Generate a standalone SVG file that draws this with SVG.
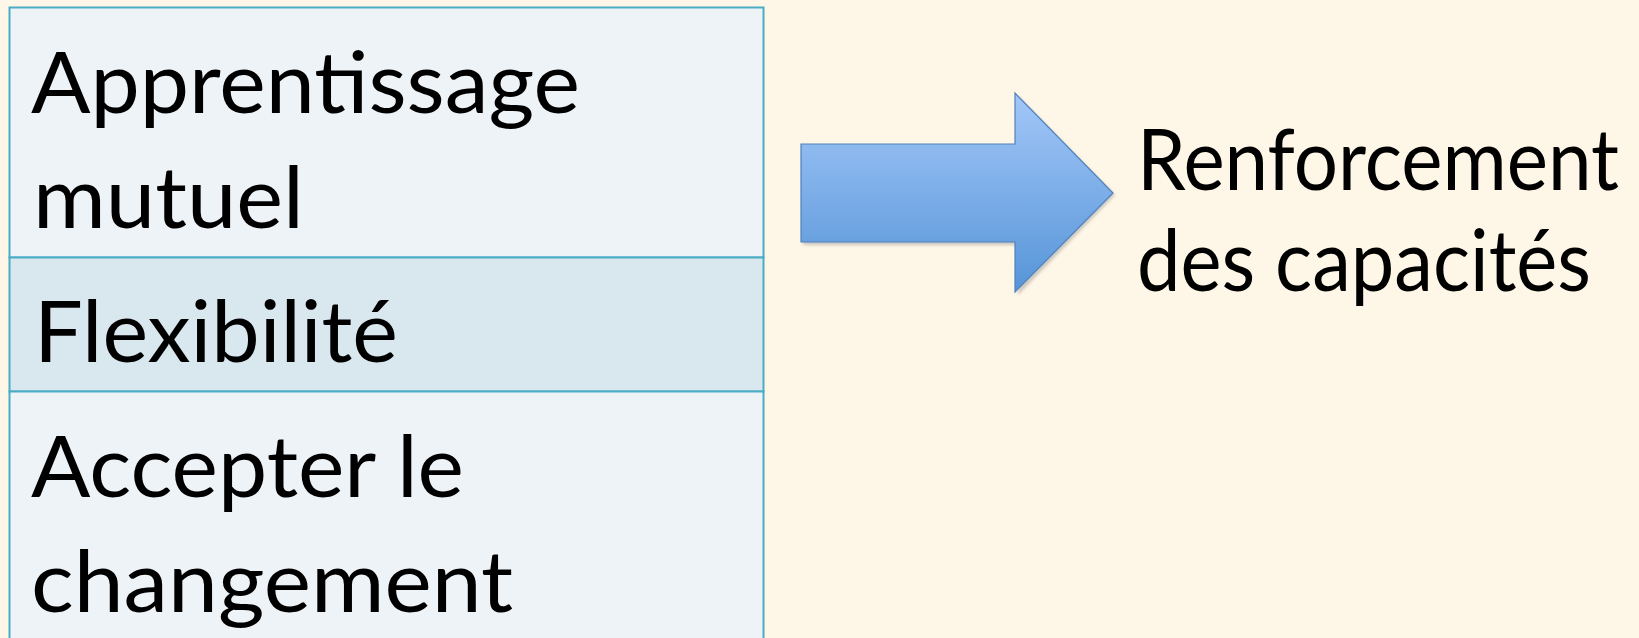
<svg xmlns="http://www.w3.org/2000/svg" width="1639" height="638" viewBox="0 0 1639 638">
<defs>
<linearGradient id="ag" x1="0" y1="0" x2="0" y2="1">
<stop offset="0" stop-color="#a3c7f8"/>
<stop offset="1" stop-color="#5695d8"/>
</linearGradient>
<filter id="sh" x="-10%" y="-10%" width="130%" height="130%">
<feGaussianBlur stdDeviation="1.5"/>
</filter>
</defs>
<style>
.t{font-family:Lato,"Open Sans","Liberation Sans",sans-serif;font-size:86px;fill:#000}
.cell{stroke:#4bacc6;stroke-width:2}
</style>
<rect width="1639" height="638" fill="#fef6e6"/>
<g id="table">
<rect id="row1" class="cell" x="9.5" y="7.5" width="754" height="250" fill="#eef3f8"/>
<rect id="row2" class="cell" x="9.5" y="257.5" width="754" height="134" fill="#d9e7ef"/>
<rect id="row3" class="cell" x="9.5" y="391.5" width="754" height="260" fill="#eef3f8"/>
</g>
<g id="cell-apprentissage">
<text class="t" x="31" y="113" textLength="549" lengthAdjust="spacingAndGlyphs">Apprentissage</text>
<text class="t" x="33" y="228" textLength="271" lengthAdjust="spacingAndGlyphs">mutuel</text>
</g>
<g id="cell-flexibilite">
<text class="t" x="34" y="362" textLength="364" lengthAdjust="spacingAndGlyphs">Flexibilité</text>
</g>
<g id="cell-changement">
<text class="t" x="31" y="497" textLength="433" lengthAdjust="spacingAndGlyphs">Accepter le</text>
<text class="t" x="31" y="612" textLength="482" lengthAdjust="spacingAndGlyphs">changement</text>
</g>
<g id="connectors">
<path d="M803,147 L1018,147 L1018,96 L1115,195 L1018,295 L1018,245 L803,245 Z" fill="#9a9a9a" opacity="0.5" filter="url(#sh)"/>
<path d="M801,144 L1015,144 L1015,93 L1113,193 L1015,292 L1015,242 L801,242 Z" fill="url(#ag)" stroke="#4f81bd" stroke-width="1.2"/>
</g>
<g id="result">
<text class="t" x="1137" y="190" textLength="482" lengthAdjust="spacingAndGlyphs">Renforcement</text>
<text class="t" x="1137" y="291" textLength="454" lengthAdjust="spacingAndGlyphs">des capacités</text>
</g>
</svg>
